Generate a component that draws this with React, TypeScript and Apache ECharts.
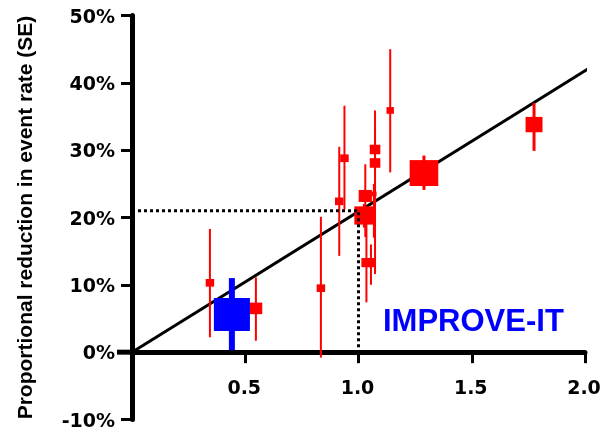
import React, { useEffect, useRef } from "react";
import * as echarts from "echarts";

// Trials (red): ratio on x, proportional reduction (%) on y, SE range, marker weight (px)
const trialX = [0.344, 0.547, 0.834, 0.915, 0.938, 1.026, 1.03, 1.068, 1.073, 1.073, 1.035, 1.055, 1.14, 1.289, 1.775];
const trialY = [10.3, 6.5, 9.5, 22.4, 28.8, 20.3, 23.2, 23.5, 30.1, 28.1, 13.3, 13.3, 35.9, 26.6, 33.8];
const trialLo = [2.2, 1.7, -0.8, 14.3, 21.2, 18.5, 17.1, 17.0, 24.0, 11.6, 7.4, 10.0, 26.7, 24.1, 29.9];
const trialHi = [18.3, 11.1, 20.1, 30.5, 36.6, 22.0, 27.9, 25.0, 35.9, 33.0, 19.3, 16.0, 45.0, 29.2, 37.0];
const trialWeight = [8, 12, 8, 8, 8, 19, 12.5, 5, 10, 10, 9.5, 9.5, 7, 27, 16];

// IMPROVE-IT (blue)
const improveX = [0.441];
const improveY = [5.6];
const improveLo = [0.3];
const improveHi = [11.0];
const improveWeight = [35];

// Regression line and reference (dotted) lines
const regressionLine = [[0, 0], [2.02, 42.2]];
const referenceLine = [[0, 21], [1.0, 21], [1.0, 0]];

const yTicks = [-10, 0, 10, 20, 30, 40, 50];
const xTicks = [0, 0.5, 1.0, 1.5, 2.0];
const xTickLabels = ["", "0.5", "1.0", "1.5", "2.0"];

const FONT = '"Liberation Sans", Arial, Helvetica, sans-serif';
const TICK_FONT = '"DejaVu Sans", "Liberation Sans", Arial, sans-serif';

export default function App() {
  const ref = useRef<HTMLDivElement>(null);
  useEffect(() => {
    if (!ref.current) return;
    const chart = echarts.init(ref.current, null, { renderer: "svg" });

    const errItem = (color: string, widthFn: (i: number) => number) =>
      (params: any, api: any) => {
        const x = api.value(0);
        const p1 = api.coord([x, api.value(1)]);
        const p2 = api.coord([x, api.value(2)]);
        return {
          type: "line",
          shape: { x1: p1[0], y1: p1[1], x2: p2[0], y2: p2[1] },
          style: { stroke: color, lineWidth: widthFn(params.dataIndex) },
        };
      };

    const option: any = {
      animation: false,
      grid: {
        left: 132,
        right: 25,
        top: 15.5,
        bottom: 14.5,
        containLabel: false,
        outerBoundsMode: "none",
      },
      xAxis: {
        type: "value",
        min: xTicks[0],
        max: xTicks[xTicks.length - 1],
        interval: 0.5,
        axisLine: { show: true, onZero: true, lineStyle: { color: "#000", width: 5 } },
        axisTick: { show: true, length: 11, lineStyle: { color: "#000", width: 3 } },
        splitLine: { show: false },
        axisLabel: { show: false },
      },
      yAxis: {
        type: "value",
        min: yTicks[0],
        max: yTicks[yTicks.length - 1],
        interval: 10,
        name: "Proportional reduction in event rate (SE)",
        nameLocation: "middle",
        nameRotate: 90,
        nameGap: 97,
        nameTextStyle: { color: "#000", fontFamily: FONT, fontWeight: "bold", fontSize: 21 },
        axisLine: { show: true, lineStyle: { color: "#000", width: 5 } },
        axisTick: { show: true, length: 11, lineStyle: { color: "#000", width: 3 } },
        splitLine: { show: false },
        axisLabel: {
          margin: 17,
          color: "#000",
          fontFamily: TICK_FONT,
          fontWeight: "bold",
          fontSize: 19,
          formatter: (v: number) => `${v}%`,
        },
      },
      series: [
        {
          type: "line",
          data: regressionLine,
          showSymbol: false,
          symbol: "none",
          clip: false,
          lineStyle: { color: "#000", width: 3 },
          z: 2,
        },
        {
          type: "custom",
          renderItem: errItem("#ff0000", (i) => (trialWeight[i] >= 15 ? 3 : 2)),
          data: trialX.map((x, i) => [x, trialLo[i], trialHi[i]]),
          encode: { x: 0, y: [1, 2] },
          z: 3,
        },
        {
          type: "custom",
          renderItem: errItem("#0000ff", () => 6),
          data: improveX.map((x, i) => [x, improveLo[i], improveHi[i]]),
          encode: { x: 0, y: [1, 2] },
          z: 3,
        },
        {
          type: "scatter",
          symbol: "rect",
          data: trialX.map((x, i) => ({
            value: [x, trialY[i]],
            symbolSize: [trialWeight[i] * 1.06, trialWeight[i] * 0.96],
          })),
          itemStyle: { color: "#ff0000", opacity: 1 },
          z: 4,
        },
        {
          type: "scatter",
          symbol: "rect",
          data: improveX.map((x, i) => ({
            value: [x, improveY[i]],
            symbolSize: [improveWeight[i] * 1.03, improveWeight[i] * 0.94],
          })),
          itemStyle: { color: "#0000ff", opacity: 1 },
          z: 4,
        },
        {
          type: "line",
          data: referenceLine,
          showSymbol: false,
          symbol: "none",
          lineStyle: { color: "#000", width: 3, type: [3, 3] },
          z: 5,
        },
      ],
    };
    chart.setOption(option);

    const o = chart.convertToPixel({ gridIndex: 0 }, [0, 0]) as number[];
    const graphics: any[] = [
      {
        type: "text",
        left: 383,
        top: 305,
        style: {
          text: "IMPROVE-IT",
          fontFamily: FONT,
          fontWeight: "bold",
          fontSize: 31,
          fill: "#0000ff",
        },
      },
      {
        type: "line",
        shape: { x1: o[0] - 15, y1: o[1], x2: o[0], y2: o[1] },
        style: { stroke: "#000", lineWidth: 5 },
        z: 10,
      },
    ];
    xTicks.forEach((t, i) => {
      if (!xTickLabels[i]) return;
      const p = chart.convertToPixel({ gridIndex: 0 }, [t, 0]) as number[];
      graphics.push({
        type: "text",
        x: p[0] - 1,
        y: p[1] + 25,
        style: {
          text: xTickLabels[i],
          fontFamily: TICK_FONT,
          fontWeight: "bold",
          fontSize: 19,
          fill: "#000",
          align: "center",
          verticalAlign: "top",
        },
      });
    });
    chart.setOption({ graphic: graphics });
    return () => chart.dispose();
  }, []);
  return (
    <div
      ref={ref}
      style={{ position: "fixed", left: 0, top: 0, width: 610, height: 434 }}
    />
  );
}
